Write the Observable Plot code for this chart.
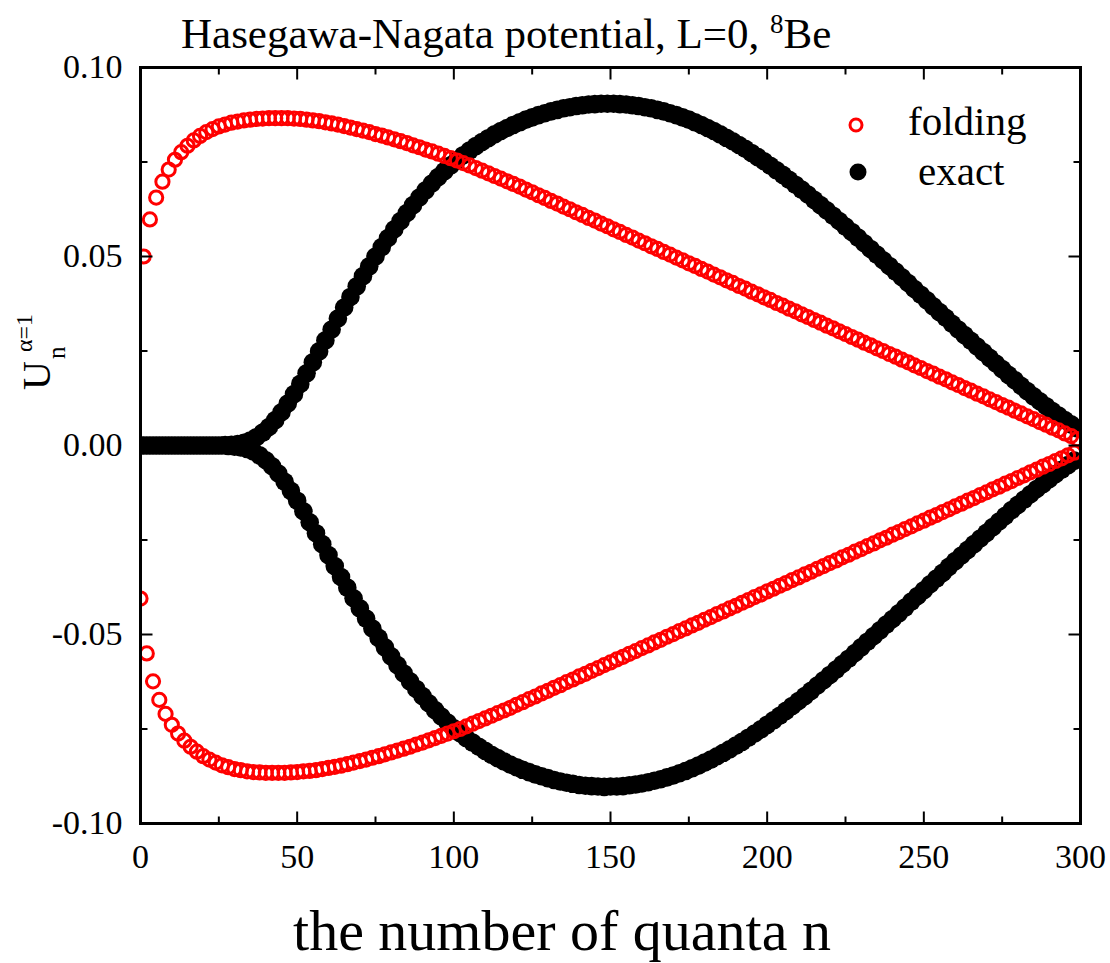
<!DOCTYPE html>
<html><head><meta charset="utf-8">
<script src="https://cdn.jsdelivr.net/npm/d3@7"></script>
<script src="https://cdn.jsdelivr.net/npm/@observablehq/plot@0.6"></script>
<style>
body{margin:0;background:#fff;}
#wrap{position:relative;width:1110px;height:963px;}
#overlay{position:absolute;left:0;top:0;pointer-events:none;}
</style></head><body>
<div id="wrap"></div>
<script>
// folding, odd n = 1..299
const foldingUpper = [
.0500,.0598,.0656,.0698,.0730,.0756,.0776,.0793,.0807,.0819,
.0829,.0837,.0844,.0849,.0854,.0857,.0860,.0862,.0864,.0865,
.0866,.0866,.0866,.0866,.0865,.0864,.0862,.0860,.0858,.0855,
.0852,.0849,.0845,.0841,.0837,.0833,.0829,.0824,.0820,.0815,
.0810,.0805,.0800,.0794,.0789,.0783,.0778,.0772,.0766,.0760,
.0754,.0747,.0741,.0734,.0727,.0720,.0713,.0706,.0699,.0692,
.0685,.0677,.0670,.0662,.0655,.0647,.0640,.0632,.0625,.0617,
.0610,.0602,.0595,.0587,.0580,.0572,.0565,.0557,.0550,.0542,
.0535,.0527,.0520,.0512,.0505,.0497,.0490,.0482,.0475,.0467,
.0460,.0452,.0445,.0437,.0430,.0422,.0415,.0407,.0400,.0392,
.0385,.0377,.0370,.0362,.0355,.0347,.0340,.0332,.0325,.0317,
.0310,.0302,.0295,.0287,.0280,.0272,.0265,.0257,.0250,.0242,
.0235,.0227,.0220,.0212,.0205,.0197,.0190,.0182,.0175,.0167,
.0160,.0152,.0145,.0137,.0130,.0122,.0115,.0107,.0100,.0092,
.0085,.0077,.0070,.0062,.0055,.0047,.0040,.0032,.0025,.0017];
// folding, even n = 0..298
const foldingLower = [
-.0405,-.0550,-.0624,-.0673,-.0710,-.0739,-.0762,-.0781,-.0797,-.0810,
-.0822,-.0831,-.0839,-.0846,-.0851,-.0856,-.0859,-.0862,-.0864,-.0865,
-.0866,-.0866,-.0866,-.0866,-.0865,-.0864,-.0862,-.0861,-.0859,-.0856,
-.0853,-.0850,-.0847,-.0843,-.0839,-.0835,-.0831,-.0826,-.0822,-.0817,
-.0812,-.0807,-.0802,-.0797,-.0791,-.0786,-.0780,-.0774,-.0768,-.0762,
-.0756,-.0750,-.0743,-.0736,-.0729,-.0722,-.0715,-.0708,-.0701,-.0694,
-.0686,-.0679,-.0671,-.0664,-.0656,-.0649,-.0641,-.0634,-.0626,-.0619,
-.0611,-.0604,-.0596,-.0589,-.0581,-.0574,-.0566,-.0559,-.0551,-.0544,
-.0536,-.0529,-.0521,-.0514,-.0506,-.0499,-.0491,-.0484,-.0476,-.0469,
-.0461,-.0454,-.0446,-.0439,-.0431,-.0424,-.0416,-.0409,-.0401,-.0394,
-.0386,-.0379,-.0371,-.0364,-.0356,-.0349,-.0341,-.0334,-.0326,-.0319,
-.0311,-.0304,-.0296,-.0289,-.0281,-.0274,-.0266,-.0259,-.0251,-.0244,
-.0236,-.0229,-.0221,-.0214,-.0206,-.0199,-.0191,-.0184,-.0176,-.0169,
-.0161,-.0154,-.0146,-.0139,-.0131,-.0124,-.0116,-.0109,-.0101,-.0094,
-.0086,-.0079,-.0071,-.0064,-.0056,-.0049,-.0041,-.0034,-.0026,-.0019];
// exact, odd n = 1..299
const exactUpper = [
0,0,0,0,0,0,0,0,0,0,
0,0,0,.0001,.0002,.0004,.0007,.0013,.0022,.0034,
.0049,.0067,.0088,.0111,.0136,.0163,.0191,.0220,.0249,.0278,
.0307,.0336,.0365,.0393,.0421,.0448,.0474,.0500,.0525,.0549,
.0572,.0594,.0615,.0636,.0656,.0675,.0693,.0710,.0726,.0741,
.0755,.0768,.0780,.0792,.0803,.0813,.0823,.0832,.0840,.0848,
.0855,.0862,.0868,.0874,.0879,.0884,.0888,.0892,.0895,.0898,
.0900,.0902,.0903,.0904,.0904,.0904,.0903,.0902,.0900,.0898,
.0895,.0892,.0888,.0884,.0879,.0874,.0868,.0862,.0855,.0848,
.0840,.0832,.0823,.0814,.0805,.0795,.0785,.0774,.0763,.0752,
.0740,.0728,.0716,.0703,.0690,.0677,.0664,.0650,.0636,.0622,
.0608,.0594,.0579,.0565,.0550,.0535,.0520,.0505,.0490,.0475,
.0460,.0445,.0430,.0414,.0399,.0384,.0368,.0353,.0338,.0322,
.0307,.0292,.0277,.0262,.0247,.0232,.0217,.0202,.0187,.0173,
.0158,.0144,.0130,.0117,.0104,.0091,.0079,.0067,.0056,.0045];
// exact, even n = 0..298
const exactLower = [
0,0,0,0,0,0,0,0,0,0,
0,0,0,0,-.0001,-.0003,-.0005,-.0009,-.0016,-.0026,
-.0039,-.0055,-.0074,-.0096,-.0120,-.0146,-.0174,-.0203,-.0232,-.0261,
-.0290,-.0319,-.0348,-.0376,-.0404,-.0431,-.0458,-.0484,-.0509,-.0534,
-.0558,-.0581,-.0603,-.0624,-.0644,-.0663,-.0682,-.0700,-.0717,-.0733,
-.0748,-.0761,-.0774,-.0786,-.0797,-.0808,-.0818,-.0827,-.0836,-.0844,
-.0851,-.0858,-.0864,-.0870,-.0875,-.0880,-.0885,-.0889,-.0892,-.0895,
-.0898,-.0900,-.0901,-.0902,-.0903,-.0902,-.0902,-.0901,-.0899,-.0897,
-.0894,-.0891,-.0887,-.0883,-.0878,-.0873,-.0867,-.0861,-.0854,-.0847,
-.0839,-.0831,-.0822,-.0813,-.0804,-.0794,-.0784,-.0773,-.0762,-.0751,
-.0739,-.0727,-.0715,-.0702,-.0689,-.0676,-.0663,-.0649,-.0635,-.0621,
-.0607,-.0593,-.0578,-.0564,-.0549,-.0534,-.0519,-.0504,-.0489,-.0474,
-.0459,-.0444,-.0429,-.0413,-.0398,-.0383,-.0367,-.0352,-.0337,-.0321,
-.0306,-.0291,-.0276,-.0261,-.0246,-.0231,-.0216,-.0201,-.0186,-.0171,
-.0157,-.0143,-.0129,-.0115,-.0102,-.0089,-.0076,-.0064,-.0052,-.0040];

const nOdd = d3.range(1, 300, 2);
const nEven = d3.range(0, 300, 2);
const xMajor = [0, 50, 100, 150, 200, 250, 300];
const xMinor = [25, 75, 125, 175, 225, 275];
const yMajor = [-0.10, -0.05, 0, 0.05, 0.10];
const yMinor = [-0.075, -0.025, 0.025, 0.075];
const seriesNames = ["folding", "exact"];
const seriesColors = ["#ff0000", "#000000"];
const titleText = "Hasegawa-Nagata potential, L=0, ";
const xLabel = "the number of quanta n";
const serif = "'Liberation Serif', 'Times New Roman', serif";

const toRows = (ns, vs, series) => vs.map((v, i) => ({n: ns[i], u: v, series}));
const folding = [...toRows(nOdd, foldingUpper, "folding"), ...toRows(nEven, foldingLower, "folding")];
const exact = [...toRows(nOdd, exactUpper, "exact"), ...toRows(nEven, exactLower, "exact")];

function tickMarks(data, ch, frameAnchor, rotate, length) {
  return Plot.vector(data, {[ch]: d => d, frameAnchor, rotate, length, anchor: "start", r: 0,
    stroke: "black", strokeWidth: 2, strokeLinecap: "butt"});
}

const chart = Plot.plot({
  width: 1110, height: 963,
  marginLeft: 140, marginRight: 30, marginTop: 67, marginBottom: 140,
  x: {domain: [0, 300]},
  y: {domain: [-0.1, 0.1]},
  style: {fontFamily: serif, fontSize: "34px", color: "black", background: "white"},
  marks: [
    Plot.dot(exact, {x: "n", y: "u", r: 9.3, fill: seriesColors[1], clip: true}),
    Plot.dot(folding, {x: "n", y: "u", r: 6.6, stroke: seriesColors[0], strokeWidth: 3, fill: "none", clip: true}),
    tickMarks(xMajor, "x", "bottom", 0, 12),
    tickMarks(xMinor, "x", "bottom", 0, 7),
    tickMarks(xMajor, "x", "top", 180, 12),
    tickMarks(xMinor, "x", "top", 180, 7),
    tickMarks(yMajor, "y", "left", 90, 12),
    tickMarks(yMinor, "y", "left", 90, 7),
    tickMarks(yMajor, "y", "right", -90, 12),
    tickMarks(yMinor, "y", "right", -90, 7),
    Plot.axisX({ticks: xMajor, tickSize: 0, tickPadding: 20, tickFormat: d => String(d), label: null, fontFamily: serif, fontSize: 34}),
    Plot.axisY({ticks: yMajor, tickSize: 0, tickPadding: 18, tickFormat: d => d.toFixed(2), label: null, fontFamily: serif, fontSize: 34}),
    Plot.frame({stroke: "black", strokeWidth: 3})
  ]
});

const wrap = document.getElementById("wrap");
wrap.appendChild(chart);

const ns = "http://www.w3.org/2000/svg";
const ov = document.createElementNS(ns, "svg");
ov.setAttribute("id", "overlay");
ov.setAttribute("width", 1110);
ov.setAttribute("height", 963);
ov.setAttribute("font-family", "Liberation Serif");
ov.innerHTML = `
  <text x="181" y="48" font-size="43" fill="black">${titleText}<tspan dy="-15" font-size="27">8</tspan><tspan dy="15" font-size="43">Be</tspan></text>
  <text x="562" y="950" font-size="58" text-anchor="middle" fill="black">${xLabel}</text>
  <g transform="translate(50,390) rotate(-90)" fill="black">
    <text x="0" y="0" font-size="40">U</text>
    <text x="31" y="15" font-size="25">n</text>
    <text x="38" y="-18" font-size="24">α=1</text>
  </g>
  <circle cx="856" cy="125" r="6" fill="none" stroke="${seriesColors[0]}" stroke-width="3"/>
  <text x="908" y="135" font-size="41" fill="black">${seriesNames[0]}</text>
  <circle cx="858" cy="172" r="8.5" fill="${seriesColors[1]}"/>
  <text x="918" y="185" font-size="41" fill="black">${seriesNames[1]}</text>
`;
wrap.appendChild(ov);
</script>
</body></html>
